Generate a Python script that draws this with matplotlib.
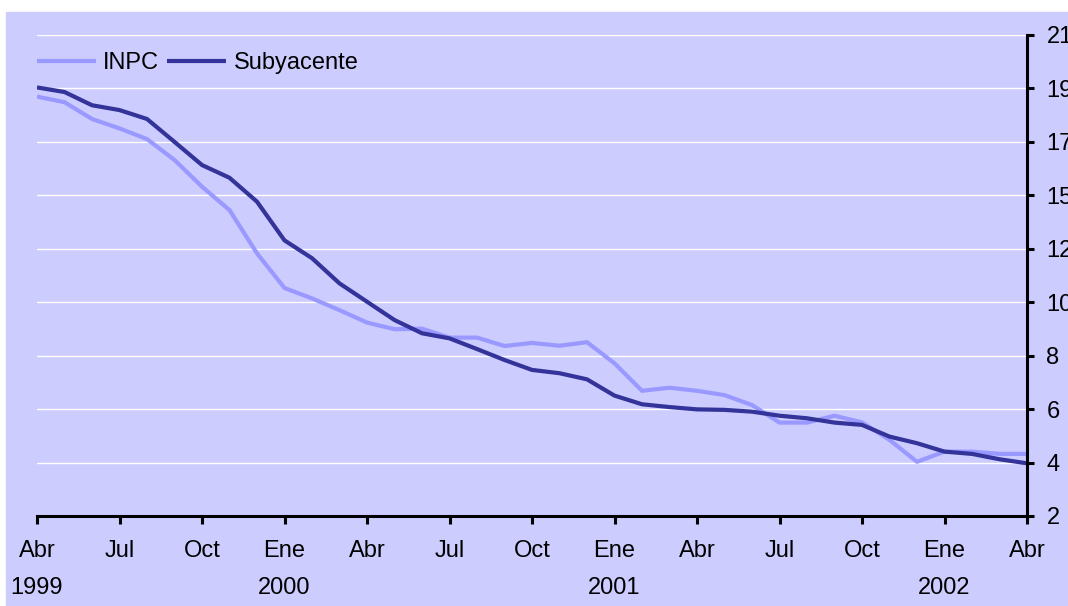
import numpy as np
import matplotlib
matplotlib.use("Agg")
import matplotlib.pyplot as plt
from matplotlib.patches import Rectangle

plt.rcParams["font.family"] = ["Liberation Sans", "DejaVu Sans"]

# monthly series, Abr 1999 .. Abr 2002
inpc = [18.48, 18.26, 17.60, 17.23, 16.81, 15.99, 14.94, 14.02, 12.32, 10.96,
        10.55, 10.09, 9.60, 9.34, 9.36, 9.01, 9.01, 8.68, 8.80, 8.69,
        8.83, 8.00, 6.92, 7.04, 6.92, 6.75, 6.36, 5.67, 5.67, 5.94,
        5.68, 4.99, 4.13, 4.53, 4.53, 4.44, 4.44]
subyacente = [18.84, 18.66, 18.14, 17.95, 17.60, 16.70, 15.79, 15.29, 14.35, 12.83,
              12.13, 11.14, 10.42, 9.70, 9.18, 8.98, 8.56, 8.13, 7.74, 7.61,
              7.37, 6.73, 6.39, 6.28, 6.19, 6.17, 6.10, 5.94, 5.84, 5.67,
              5.58, 5.12, 4.86, 4.53, 4.44, 4.23, 4.07]
month_labels = ["Abr", "Jul", "Oct", "Ene", "Abr", "Jul", "Oct",
                "Ene", "Abr", "Jul", "Oct", "Ene", "Abr"]
year_labels = ["1999", "", "", "2000", "", "", "", "2001", "", "", "", "2002", ""]
y_labels = ["2", "4", "6", "8", "10", "12", "15", "17", "19", "21"]

bg = "#CCCCFF"
fs = 17
fig = plt.figure(figsize=(10.68, 6.06), dpi=100)
fig.patches.append(Rectangle((6 / 1068, 0), 1 - 6 / 1068, 594 / 606,
                             transform=fig.transFigure, color=bg, zorder=-5))
ax = fig.add_axes([37 / 1068, 90 / 606, 990 / 1068, 481 / 606])
ax.set_facecolor(bg)

x = np.arange(len(inpc))
ax.plot(x, inpc, color="#9999FF", lw=3, label="INPC", solid_capstyle="butt")
ax.plot(x, subyacente, color="#333399", lw=3, label="Subyacente", solid_capstyle="butt")

ax.set_xlim(0, len(inpc) - 1)
ax.set_ylim(2, 20.9)
yt = 2 + 2.1 * np.arange(len(y_labels))
ax.set_yticks(yt)
ax.set_yticklabels(y_labels)
ax.yaxis.tick_right()
ax.grid(axis="y", color="white", lw=1)
ax.set_axisbelow(True)

ax.set_xticks(np.arange(0, len(inpc), 3))
ax.set_xticklabels([m + "\n" + y for m, y in zip(month_labels, year_labels)])
for lbl in ax.get_xticklabels():
    lbl.set_linespacing(1.9)

for s in ["top", "left"]:
    ax.spines[s].set_visible(False)
for s in ["right", "bottom"]:
    ax.spines[s].set_linewidth(2.2)
    ax.spines[s].set_color("black")
ax.tick_params(axis="y", direction="out", length=5, width=2.2, labelsize=fs, pad=9)
ax.tick_params(axis="x", direction="out", length=6, width=2.2, labelsize=fs, pad=11)

ax.legend(loc="upper left", bbox_to_anchor=(0.0, 0.965), ncol=2, frameon=False,
          fontsize=fs, handlelength=2.5, handletextpad=0.3, columnspacing=0.35,
          borderpad=0, borderaxespad=0)

fig.savefig("out.png", dpi=100, facecolor="white")
